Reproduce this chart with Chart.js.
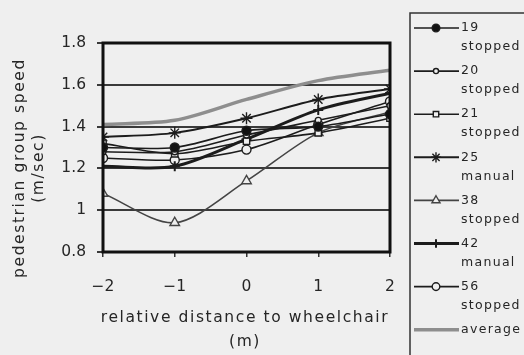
<!DOCTYPE html>
<html>
<head>
<meta charset="utf-8">
<script src="https://cdn.jsdelivr.net/npm/chart.js@4/dist/chart.umd.min.js"></script>
<style>
  html, body { margin: 0; padding: 0; background: #efefef; }
  #wrap { width: 524px; height: 355px; position: relative; }
</style>
</head>
<body>
<div id="wrap"><canvas id="speedChart"></canvas></div>
<script>
// relative distance to wheelchair (m)
const distances = [-2, -1, 0, 1, 2];
const yTicks = [0.8, 1, 1.2, 1.4, 1.6, 1.8];

// pedestrian group speed (m/sec)
const group19 = [1.30, 1.30, 1.38, 1.40, 1.46];
const group20 = [1.28, 1.28, 1.36, 1.43, 1.50];
const group21 = [1.32, 1.27, 1.33, 1.37, 1.44];
const group25 = [1.35, 1.37, 1.44, 1.53, 1.58];
const group38 = [1.08, 0.94, 1.14, 1.37, 1.47];
const group42 = [1.21, 1.21, 1.34, 1.48, 1.56];
const group56 = [1.25, 1.24, 1.29, 1.41, 1.52];
const groupAvg = [1.41, 1.43, 1.53, 1.62, 1.67];

const legendLines = [
    ["19", "stopped"], ["20", "stopped"], ["21", "stopped"], ["25", "manual"],
    ["38", "stopped"], ["42", "manual"], ["56", "stopped"], ["average"]
];
const xTitle = ["relative distance to wheelchair", "(m)"];
const yTitle = ["pedestrian group speed", "(m/sec)"];

const FONT = "'DejaVu Sans', sans-serif";
const INK = "#262626";

function series(data, style, radius, extra) {
    return Object.assign({
        data: distances.map((x, i) => ({ x: x, y: data[i] })),
        borderColor: "#1c1c1c",
        backgroundColor: "#1c1c1c",
        borderWidth: 1.6,
        pointStyle: style,
        pointRadius: radius,
        pointBorderColor: "#1c1c1c",
        pointBackgroundColor: "#efefef",
        pointBorderWidth: 1.4,
        tension: 0.3,
        fill: false,
    }, extra || {});
}

const datasets = [
    series(group19, "circle", 4.5, { pointBackgroundColor: "#111" }),
    series(group20, "circle", 3),
    series(group21, "rect", 4.5),
    series(group25, "star", 6, { borderWidth: 2 }),
    series(group38, "triangle", 5.5, { borderColor: "#444", pointBorderColor: "#444" }),
    series(group42, "cross", 5, { borderWidth: 3, pointBorderWidth: 2 }),
    series(group56, "circle", 4.5),
    series(groupAvg, false, 0, { borderColor: "#8e8e8e", borderWidth: 3.5 }),
];

// legend box on the right, entries on two lines
const sideLegend = {
    id: "sideLegend",
    afterDraw(chart) {
        const ctx = chart.ctx;
        ctx.save();
        ctx.strokeStyle = "#333";
        ctx.lineWidth = 1.5;
        ctx.strokeRect(410, 13, 130, 350);
        ctx.font = "12.5px " + FONT;
        ctx.letterSpacing = "1.3px";
        ctx.textBaseline = "middle";
        ctx.textAlign = "left";
        chart.data.datasets.forEach((ds, i) => {
            const y = 28 + i * 43.1;
            ctx.strokeStyle = ds.borderColor;
            ctx.lineWidth = ds.borderWidth;
            ctx.beginPath();
            ctx.moveTo(414, y);
            ctx.lineTo(459, y);
            ctx.stroke();
            if (ds.pointStyle) {
                ctx.fillStyle = ds.pointBackgroundColor;
                ctx.strokeStyle = ds.pointBorderColor;
                ctx.lineWidth = ds.pointBorderWidth;
                Chart.helpers.drawPoint(ctx, {
                    pointStyle: ds.pointStyle, radius: ds.pointRadius * 0.85,
                    rotation: 0, borderWidth: ds.pointBorderWidth
                }, 436, y);
            }
            ctx.fillStyle = INK;
            const lines = legendLines[i];
            ctx.fillText(lines[0], 461, y);
            if (lines[1]) ctx.fillText(lines[1], 461, y + 19);
        });
        ctx.restore();
    }
};

// axis titles and the heavy frame round the plot
const frameAndTitles = {
    id: "frameAndTitles",
    afterDatasetsDraw(chart) {
        const a = chart.chartArea;
        const ctx = chart.ctx;
        ctx.save();
        ctx.strokeStyle = "#111";
        ctx.lineWidth = 3;
        ctx.strokeRect(a.left, a.top, a.right - a.left, a.bottom - a.top);

        ctx.fillStyle = INK;
        ctx.font = "15.5px " + FONT;
        ctx.letterSpacing = "1.6px";
        ctx.textAlign = "center";
        ctx.textBaseline = "middle";
        ctx.fillText(xTitle[0], 245, 318);
        ctx.fillText(xTitle[1], 245, 342);

        ctx.translate(20, 168);
        ctx.rotate(-Math.PI / 2);
        ctx.fillText(yTitle[0], 0, 0);
        ctx.fillText(yTitle[1], 0, 19);
        ctx.restore();
    }
};

new Chart(document.getElementById("speedChart"), {
    type: "line",
    data: { datasets: datasets },
    plugins: [frameAndTitles, sideLegend],
    options: {
        responsive: true,
        maintainAspectRatio: false,
        animation: false,
        layout: { padding: { top: 43, right: 134, left: 0, bottom: 0 } },
        plugins: { legend: { display: false }, tooltip: { enabled: false } },
        scales: {
            x: {
                type: "linear",
                min: -2, max: 2,
                afterBuildTicks: (axis) => { axis.ticks = distances.map(v => ({ value: v })); },
                afterFit: (axis) => { axis.height = 103; },
                ticks: {
                    color: INK, font: { family: FONT, size: 15.5 },
                    callback: (v) => v < 0 ? "\u2212" + Math.abs(v) : String(v),
                    padding: 21,
                },
                grid: { display: true, drawOnChartArea: false, drawTicks: true, tickLength: 5, color: "#333", lineWidth: 1.5 },
                border: { display: false },
            },
            y: {
                min: 0.8, max: 1.8,
                afterBuildTicks: (axis) => { axis.ticks = yTicks.map(v => ({ value: v })); },
                afterFit: (axis) => { axis.width = 103; },
                ticks: {
                    color: INK, font: { family: FONT, size: 15.5 },
                    callback: (v) => String(Math.round(v * 10) / 10),
                    padding: 11,
                },
                grid: { color: "#3a3a3a", lineWidth: 2, drawTicks: true, tickLength: 6 },
                border: { display: false },
            },
        },
    },
});
</script>
</body>
</html>
